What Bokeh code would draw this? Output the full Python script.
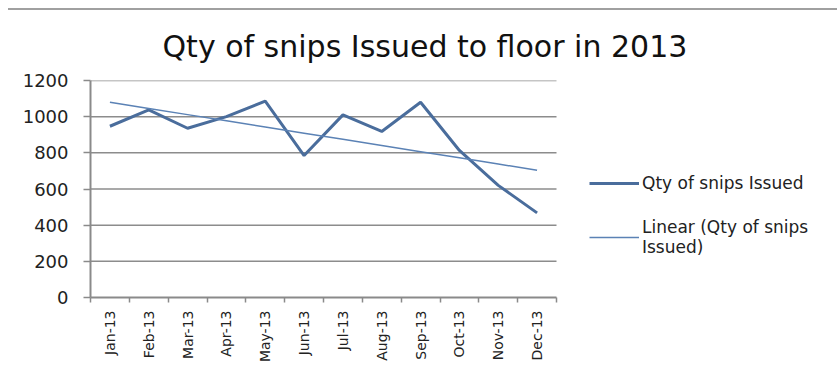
import numpy as np
from bokeh.plotting import figure
from bokeh.models import FixedTicker, Legend, LegendItem, Range1d
from bokeh.embed import file_html
from bokeh.resources import INLINE

# ---- data ----
months = ["Jan-13", "Feb-13", "Mar-13", "Apr-13", "May-13", "Jun-13",
          "Jul-13", "Aug-13", "Sep-13", "Oct-13", "Nov-13", "Dec-13"]
qty = [947, 1038, 936, 1000, 1086, 785, 1010, 918, 1080, 813, 620, 468]
y_ticks = [0, 200, 400, 600, 800, 1000, 1200]
title_text = "Qty of snips Issued to floor in 2013"
series_label = "Qty of snips Issued"
trend_label = "Linear (Qty of snips\nIssued)"

# category centres on a numeric axis so tick marks can sit between categories
n = len(months)
xs = np.arange(n) + 0.5
idx = np.arange(n)
slope, intercept = np.polyfit(idx, qty, 1)
trend = slope * idx + intercept

FONT = "DejaVu Sans"
LINE = "#4a6d9c"
GRID = "#8c8c8c"

# layout: the plotting area (0..n) is 466 px wide; frame continues to the right to host the legend
FRAME_W = 745
PLOT_W = 466
x_end = n * FRAME_W / PLOT_W

p = figure(width=829, height=355, output_backend="svg", toolbar_location=None,
           x_range=Range1d(0, x_end), y_range=Range1d(0, 1200),
           min_border_left=82, min_border_right=2, min_border_top=70,
           min_border_bottom=66)
p.styles = {"border-top": "2px solid #a0a0a0", "margin-top": "8px", "margin-left": "8px"}
p.outline_line_color = None
p.background_fill_color = "white"
p.border_fill_color = "white"

p.title.text = title_text
p.title.align = "left"
p.title.text_font = FONT
p.title.text_font_size = "30px"
p.title.text_font_style = "normal"
p.title.text_color = "#111111"
p.title.offset = 72
p.title.standoff = 33

# y axis
p.yaxis.ticker = FixedTicker(ticks=y_ticks)
p.yaxis.major_tick_out = 7
p.yaxis.major_tick_in = 0
p.yaxis.minor_tick_line_color = None
p.yaxis.axis_line_color = "#8a8a8a"
p.yaxis.axis_line_width = 2
p.yaxis.major_tick_line_color = "#8a8a8a"
p.yaxis.major_tick_line_width = 1.5
p.yaxis.major_label_text_font = FONT
p.yaxis.major_label_text_font_size = "18px"
p.yaxis.major_label_text_color = "#222222"
p.yaxis.major_label_standoff = 15

# x axis
p.xaxis.bounds = (0, n)
p.xaxis.ticker = FixedTicker(ticks=list(xs), minor_ticks=list(range(n + 1)))
p.xaxis.major_label_overrides = {float(x): m for x, m in zip(xs, months)}
p.xaxis.major_tick_out = 0
p.xaxis.major_tick_in = 0
p.xaxis.minor_tick_out = 5
p.xaxis.minor_tick_in = 0
p.xaxis.minor_tick_line_color = "#8a8a8a"
p.xaxis.minor_tick_line_width = 1.5
p.xaxis.axis_line_color = "#8a8a8a"
p.xaxis.axis_line_width = 2
p.xaxis.major_label_orientation = np.pi / 2
p.xaxis.major_label_text_font = FONT
p.xaxis.major_label_text_font_size = "14px"
p.xaxis.major_label_text_color = "#222222"
p.xaxis.major_label_standoff = 8

# horizontal gridlines limited to the category area
p.xgrid.grid_line_color = None
p.ygrid.grid_line_color = None
p.segment(x0=0, x1=n, y0=y_ticks[1:], y1=y_ticks[1:], line_color=GRID, line_width=1.5)

r_main = p.line(xs, qty, line_color=LINE, line_width=3)
r_trend = p.line(xs, trend, line_color="#5b82b5", line_width=1.5)

legend = Legend(items=[LegendItem(label=series_label, renderers=[r_main]),
                       LegendItem(label=trend_label, renderers=[r_trend])],
                location=(499, 40))
legend.padding = 0
legend.margin = 0
legend.spacing = 24
legend.border_line_color = None
legend.background_fill_alpha = 0
legend.glyph_width = 50
legend.glyph_height = 20
legend.label_height = 20
legend.label_standoff = 3
legend.label_text_font = FONT
legend.label_text_font_size = "17px"
legend.label_text_color = "#222222"
p.add_layout(legend, "center")

open("out.html", "w").write(file_html(p, INLINE))
